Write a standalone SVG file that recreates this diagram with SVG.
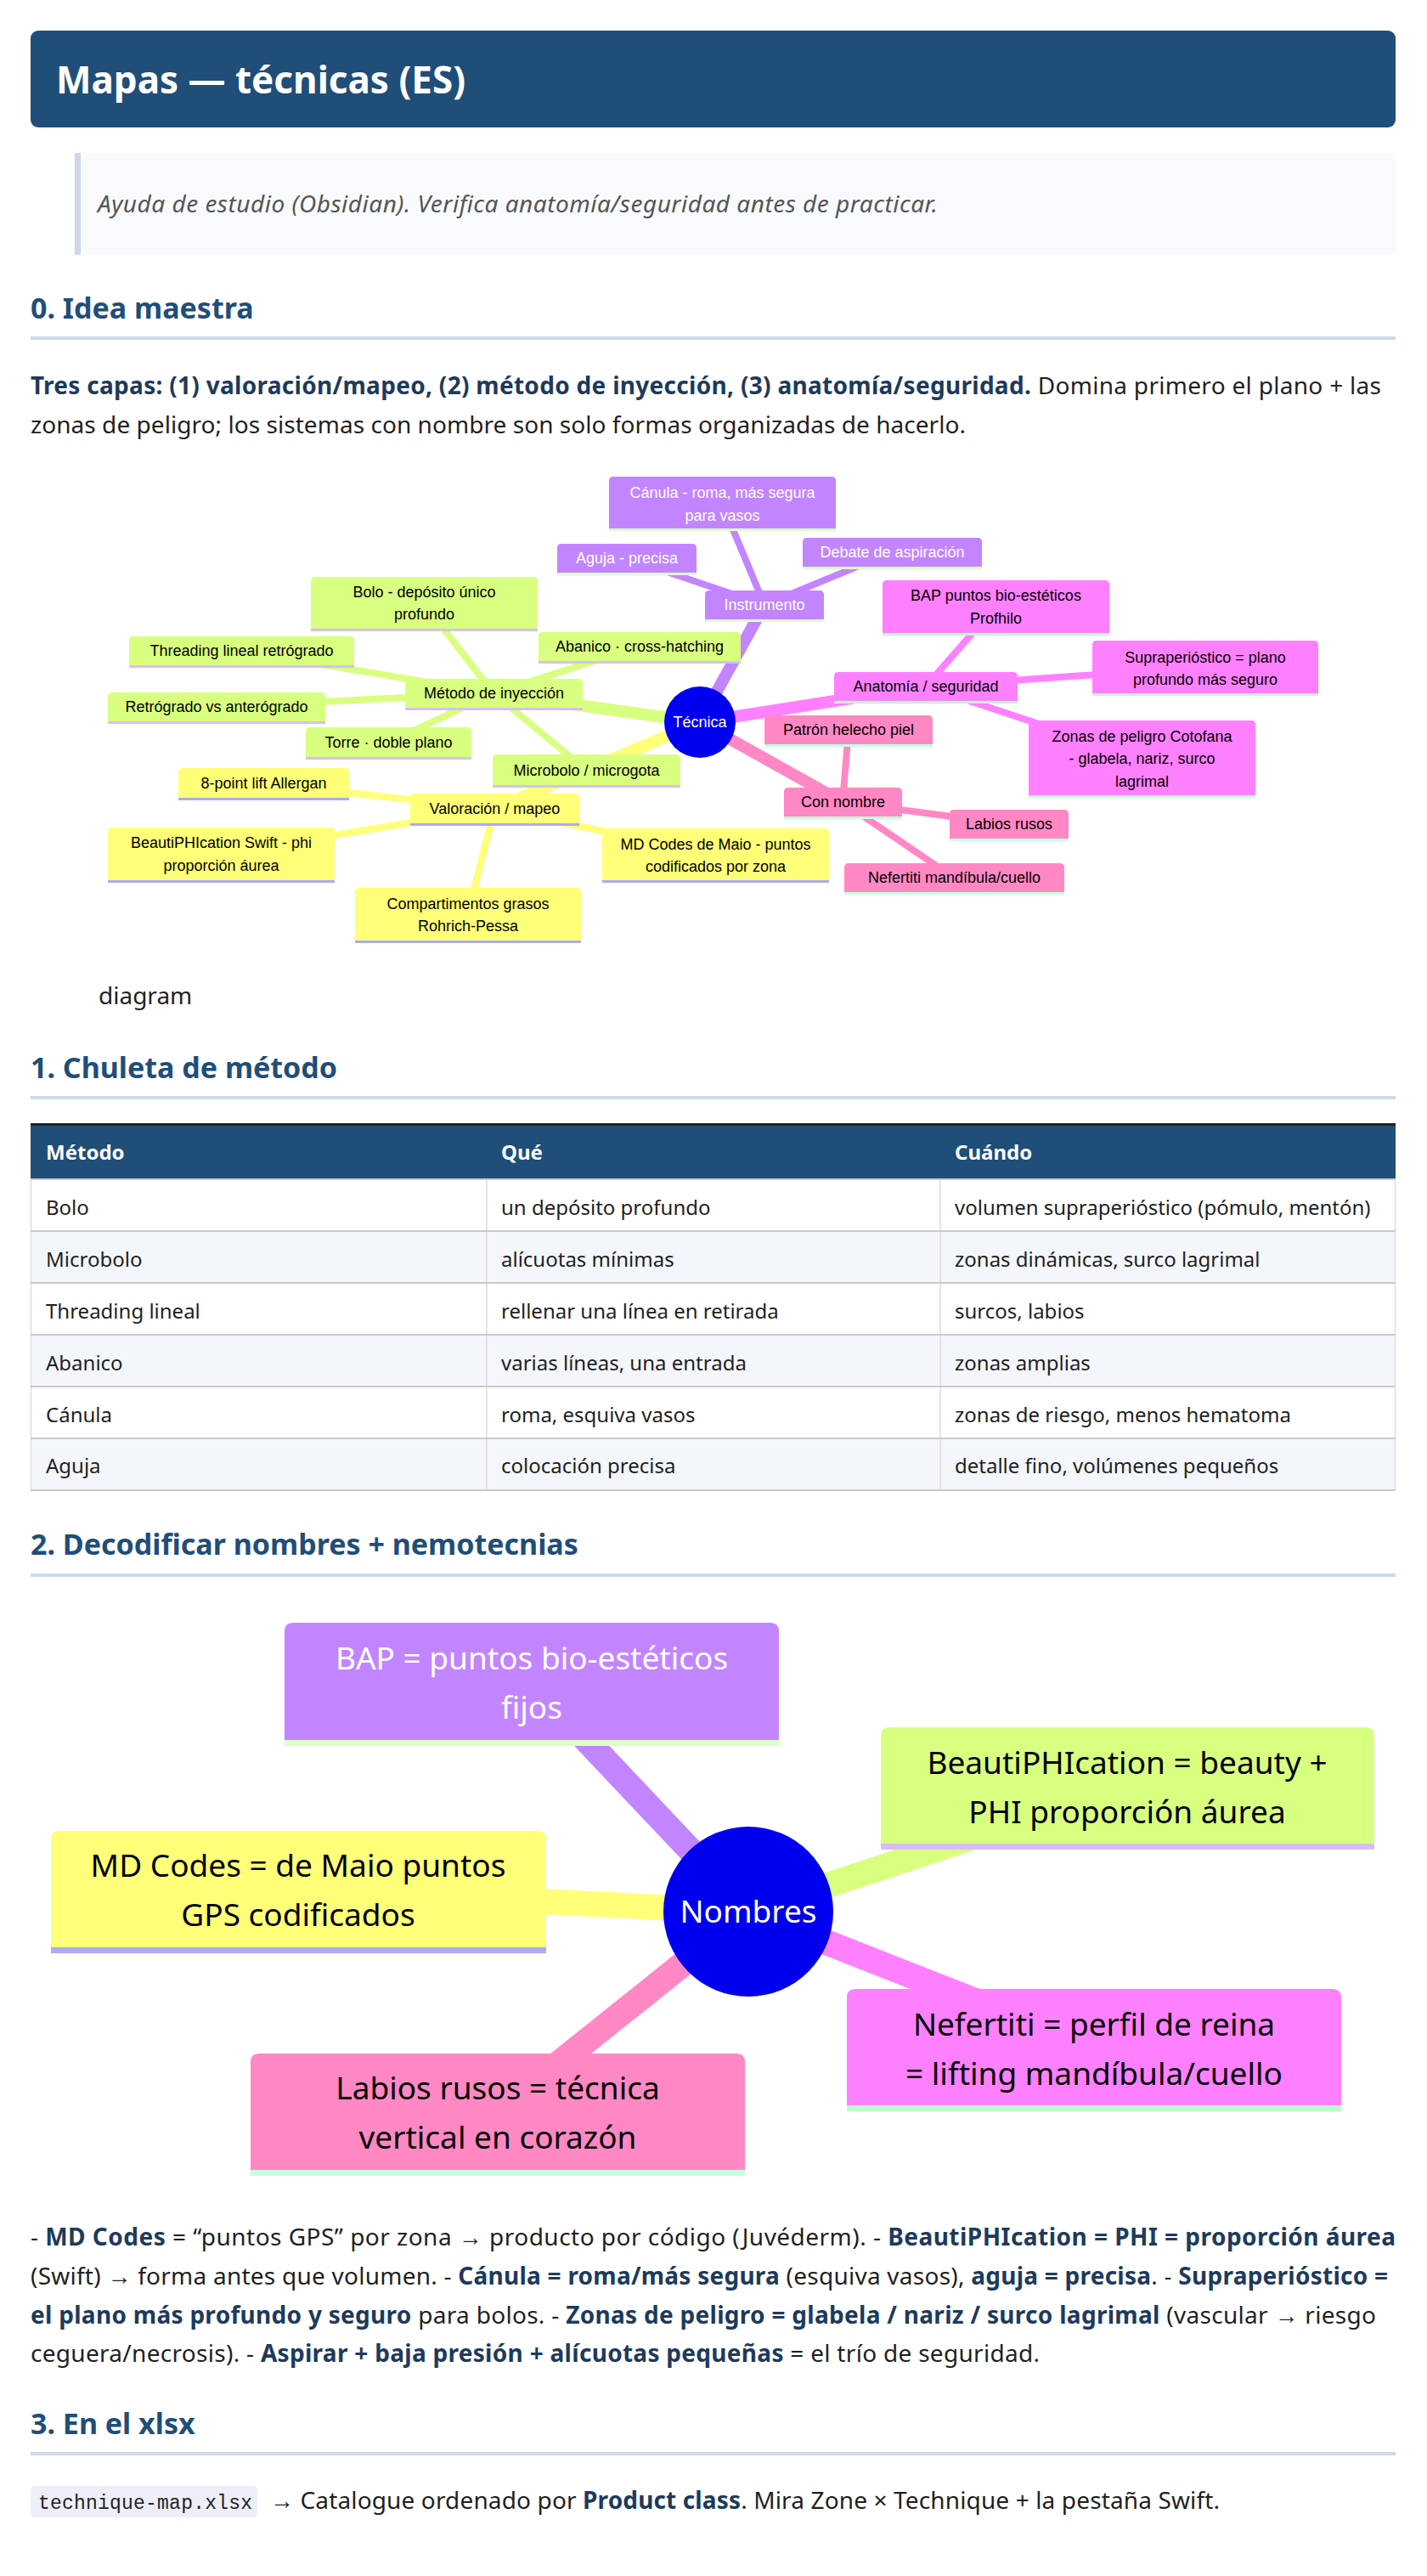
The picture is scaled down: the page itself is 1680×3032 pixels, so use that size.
<svg xmlns="http://www.w3.org/2000/svg" width="1680" height="3032" viewBox="0 0 1680 3032">
<style>
.pg{font-family:"Noto Sans","Open Sans","Liberation Sans",sans-serif;fill:#1f1f1f}
.b{font-weight:700;fill:#1d3a5c}
.h2{font-family:"Noto Sans","Open Sans",sans-serif;font-weight:700;font-size:34px;fill:#1f4e79}
.body{font-size:28px}
.td{font-family:"Noto Sans","Open Sans",sans-serif;font-size:24px;fill:#1f1f1f}
.th{font-family:"Noto Sans","Open Sans",sans-serif;font-size:24px;font-weight:700;fill:#ffffff}
.m1{font-family:"Liberation Sans","DejaVu Sans",sans-serif;font-size:18px;text-anchor:middle;fill:#000}
.m1w{fill:#ffffff}
.m2{font-family:"Noto Sans","Open Sans",sans-serif;font-size:37px;text-anchor:middle;fill:#000}
.pu{fill:#c385ff}.pul{fill:#ddffc6}
.ma{fill:#ff80ff}.mal{fill:#baffc8}
.pk{fill:#ff88c4}.pkl{fill:#c4ffe2}
.ye{fill:#ffff78}.yel{fill:#aaaaff}
.gr{fill:#d9ff80}.grl{fill:#d5beff}
.e1{stroke-width:14;stroke-linecap:butt;fill:none}
.e2{stroke-width:8;stroke-linecap:butt;fill:none}
.e3{stroke-width:30;stroke-linecap:butt;fill:none}
.spu{stroke:#c385ff}.sma{stroke:#ff80ff}.spk{stroke:#ff88c4}.sye{stroke:#ffff78}.sgr{stroke:#d9ff80}
.hl{fill:#cdd9e6}
.rowa{fill:#ffffff}.rowb{fill:#f3f6fb}
.hline{fill:#cacaca}
.vline{stroke:#dddddd;stroke-width:1.5}
</style>

<!-- Title -->
<g id="title">
<rect x="36" y="36" width="1607" height="114" rx="9" fill="#1f4e79"/>
<text x="66" y="110" font-family="Noto Sans, Open Sans, sans-serif" font-size="44" font-weight="700" fill="#ffffff">Mapas — técnicas (ES)</text>
</g>

<!-- Blockquote -->
<g id="note">
<rect x="95" y="180" width="1548" height="120" fill="#f8fafd"/>
<rect x="88" y="180" width="7" height="120" fill="#cdd9e6"/>
<text x="115" y="250" font-family="Noto Sans, Open Sans, sans-serif" font-size="28" font-style="italic" fill="#555555" textLength="989" lengthAdjust="spacing">Ayuda de estudio (Obsidian). Verifica anatomía/seguridad antes de practicar.</text>
</g>

<!-- Section 0 -->
<g id="sec0">
<text class="h2" x="36" y="375">0. Idea maestra</text>
<rect class="hl" x="36" y="396" width="1607" height="4"/>
<text class="pg body" x="36" y="464" textLength="1590" lengthAdjust="spacing"><tspan class="b">Tres capas: (1) valoración/mapeo, (2) método de inyección, (3) anatomía/seguridad.</tspan> Domina primero el plano + las</text>
<text class="pg body" x="36" y="510" textLength="1101" lengthAdjust="spacing">zonas de peligro; los sistemas con nombre son solo formas organizadas de hacerlo.</text>
</g>

<!-- Mindmap 1 connectors -->
<g id="connectors-map1">
<line class="e1 spu" x1="824" y1="850" x2="900" y2="712"/>
<line class="e1 sma" x1="824" y1="850" x2="1090" y2="808"/>
<line class="e1 spk" x1="824" y1="850" x2="992" y2="944"/>
<line class="e1 sgr" x1="824" y1="850" x2="581" y2="816"/>
<line class="e1 sye" x1="824" y1="850" x2="582" y2="952"/>
<line class="e2 spu" x1="900" y1="712" x2="850" y2="592"/>
<line class="e2 spu" x1="900" y1="712" x2="738" y2="657"/>
<line class="e2 spu" x1="900" y1="712" x2="1050" y2="650"/>
<line class="e2 sma" x1="1090" y1="808" x2="1172" y2="714"/>
<line class="e2 sma" x1="1090" y1="808" x2="1419" y2="785"/>
<line class="e2 sma" x1="1090" y1="808" x2="1344" y2="892"/>
<line class="e2 spk" x1="992" y1="944" x2="999" y2="859"/>
<line class="e2 spk" x1="992" y1="944" x2="1188" y2="970"/>
<line class="e2 spk" x1="992" y1="944" x2="1123" y2="1033"/>
<line class="e2 sgr" x1="581" y1="816" x2="499" y2="710"/>
<line class="e2 sgr" x1="581" y1="816" x2="284" y2="766"/>
<line class="e2 sgr" x1="581" y1="816" x2="753" y2="761"/>
<line class="e2 sgr" x1="581" y1="816" x2="255" y2="832"/>
<line class="e2 sgr" x1="581" y1="816" x2="457" y2="874"/>
<line class="e2 sgr" x1="581" y1="816" x2="690" y2="906"/>
<line class="e2 sye" x1="582" y1="952" x2="310" y2="922"/>
<line class="e2 sye" x1="582" y1="952" x2="260" y2="1005"/>
<line class="e2 sye" x1="582" y1="952" x2="551" y2="1076"/>
<line class="e2 sye" x1="582" y1="952" x2="842" y2="1005"/>
</g>

<!-- Mindmap 1 nodes -->
<g id="m1-tecnica"><circle cx="824" cy="850" r="42" fill="#0000ee"/><text class="m1 m1w" x="824" y="856">Técnica</text></g>

<g id="m1-instrumento"><path class="pu" d="M830 729V700Q830 695 835 695H965Q970 695 970 700V729Z"/><rect class="pul" x="830" y="729" width="140" height="3"/><text class="m1 m1w" x="900" y="718">Instrumento</text></g>
<g id="m1-canula"><path class="pu" d="M717 622V566Q717 561 722 561H979Q984 561 984 566V622Z"/><rect class="pul" x="717" y="622" width="267" height="3"/><text class="m1 m1w" x="850.5" y="586">Cánula - roma, más segura</text><text class="m1 m1w" x="850.5" y="613">para vasos</text></g>
<g id="m1-aguja"><path class="pu" d="M656 674V645Q656 640 661 640H815Q820 640 820 645V674Z"/><rect class="pul" x="656" y="674" width="164" height="3"/><text class="m1 m1w" x="738" y="663">Aguja - precisa</text></g>
<g id="m1-debate"><path class="pu" d="M945 667V638Q945 633 950 633H1151Q1156 633 1156 638V667Z"/><rect class="pul" x="945" y="667" width="211" height="3"/><text class="m1 m1w" x="1050.5" y="656">Debate de aspiración</text></g>

<g id="m1-anatomia"><path class="ma" d="M982 825V796Q982 791 987 791H1193Q1198 791 1198 796V825Z"/><rect class="mal" x="982" y="825" width="216" height="3"/><text class="m1" x="1090" y="814">Anatomía / seguridad</text></g>
<g id="m1-bap"><path class="ma" d="M1039 745V688Q1039 683 1044 683H1301Q1306 683 1306 688V745Z"/><rect class="mal" x="1039" y="745" width="267" height="3"/><text class="m1" x="1172.5" y="707">BAP puntos bio-estéticos</text><text class="m1" x="1172.5" y="734">Profhilo</text></g>
<g id="m1-supra"><path class="ma" d="M1286 816V759Q1286 754 1291 754H1547Q1552 754 1552 759V816Z"/><rect class="mal" x="1286" y="816" width="266" height="3"/><text class="m1" x="1419" y="780">Supraperióstico = plano</text><text class="m1" x="1419" y="806">profundo más seguro</text></g>
<g id="m1-zonas"><path class="ma" d="M1211 936V853Q1211 848 1216 848H1473Q1478 848 1478 853V936Z"/><rect class="mal" x="1211" y="936" width="267" height="3"/><text class="m1" x="1344.5" y="873">Zonas de peligro Cotofana</text><text class="m1" x="1344.5" y="899">- glabela, nariz, surco</text><text class="m1" x="1344.5" y="926">lagrimal</text></g>

<g id="m1-connombre"><path class="pk" d="M923 961V932Q923 927 928 927H1057Q1062 927 1062 932V961Z"/><rect class="pkl" x="923" y="961" width="139" height="3"/><text class="m1" x="992.5" y="950">Con nombre</text></g>
<g id="m1-patron"><path class="pk" d="M900 876V847Q900 842 905 842H1093Q1098 842 1098 847V876Z"/><rect class="pkl" x="900" y="876" width="198" height="3"/><text class="m1" x="999" y="865">Patrón helecho piel</text></g>
<g id="m1-labios"><path class="pk" d="M1118 987V958Q1118 953 1123 953H1253Q1258 953 1258 958V987Z"/><rect class="pkl" x="1118" y="987" width="140" height="3"/><text class="m1" x="1188" y="976">Labios rusos</text></g>
<g id="m1-nefertiti"><path class="pk" d="M994 1050V1021Q994 1016 999 1016H1248Q1253 1016 1253 1021V1050Z"/><rect class="pkl" x="994" y="1050" width="259" height="3"/><text class="m1" x="1123.5" y="1039">Nefertiti mandíbula/cuello</text></g>

<g id="m1-metodo"><path class="gr" d="M477 833V804Q477 799 482 799H681Q686 799 686 804V833Z"/><rect class="grl" x="477" y="833" width="209" height="3"/><text class="m1" x="581.5" y="822">Método de inyección</text></g>
<g id="m1-bolo"><path class="gr" d="M366 740V684Q366 679 371 679H628Q633 679 633 684V740Z"/><rect class="grl" x="366" y="740" width="267" height="3"/><text class="m1" x="499.5" y="703">Bolo - depósito único</text><text class="m1" x="499.5" y="729">profundo</text></g>
<g id="m1-threading"><path class="gr" d="M152 783V754Q152 749 157 749H412Q417 749 417 754V783Z"/><rect class="grl" x="152" y="783" width="265" height="3"/><text class="m1" x="284.5" y="772">Threading lineal retrógrado</text></g>
<g id="m1-abanico"><path class="gr" d="M634 778V749Q634 744 639 744H867Q872 744 872 749V778Z"/><rect class="grl" x="634" y="778" width="238" height="3"/><text class="m1" x="753" y="767">Abanico · cross-hatching</text></g>
<g id="m1-retrogrado"><path class="gr" d="M127 849V820Q127 815 132 815H378Q383 815 383 820V849Z"/><rect class="grl" x="127" y="849" width="256" height="3"/><text class="m1" x="255" y="838">Retrógrado vs anterógrado</text></g>
<g id="m1-torre"><path class="gr" d="M360 891V861Q360 856 365 856H550Q555 856 555 861V891Z"/><rect class="grl" x="360" y="891" width="195" height="3"/><text class="m1" x="457.5" y="880">Torre · doble plano</text></g>
<g id="m1-microbolo"><path class="gr" d="M580 924V893Q580 888 585 888H796Q801 888 801 893V924Z"/><rect class="grl" x="580" y="924" width="221" height="3"/><text class="m1" x="690.5" y="913">Microbolo / microgota</text></g>

<g id="m1-valoracion"><path class="ye" d="M483 969V939Q483 934 488 934H677Q682 934 682 939V969Z"/><rect class="yel" x="483" y="969" width="199" height="3"/><text class="m1" x="582.5" y="958">Valoración / mapeo</text></g>
<g id="m1-8point"><path class="ye" d="M210 939V909Q210 904 215 904H406Q411 904 411 909V939Z"/><rect class="yel" x="210" y="939" width="201" height="3"/><text class="m1" x="310.5" y="928">8-point lift Allergan</text></g>
<g id="m1-beauti"><path class="ye" d="M127 1036V979Q127 974 132 974H389Q394 974 394 979V1036Z"/><rect class="yel" x="127" y="1036" width="267" height="3"/><text class="m1" x="260.5" y="998">BeautiPHIcation Swift - phi</text><text class="m1" x="260.5" y="1025">proporción áurea</text></g>
<g id="m1-compart"><path class="ye" d="M418 1107V1050Q418 1045 423 1045H679Q684 1045 684 1050V1107Z"/><rect class="yel" x="418" y="1107" width="266" height="3"/><text class="m1" x="551" y="1070">Compartimentos grasos</text><text class="m1" x="551" y="1096">Rohrich-Pessa</text></g>
<g id="m1-mdcodes"><path class="ye" d="M709 1036V980Q709 975 714 975H971Q976 975 976 980V1036Z"/><rect class="yel" x="709" y="1036" width="267" height="3"/><text class="m1" x="842.5" y="1000">MD Codes de Maio - puntos</text><text class="m1" x="842.5" y="1026">codificados por zona</text></g>

<text class="pg body" x="116" y="1182">diagram</text>

<!-- Section 1 -->
<g id="sec1">
<text class="h2" x="36" y="1269">1. Chuleta de método</text>
<rect class="hl" x="36" y="1290" width="1607" height="4"/>
</g>

<g id="table">
<rect x="36" y="1322" width="1607" height="3" fill="#222222"/>
<rect x="36" y="1325" width="1607" height="63" fill="#1f4e79"/>
<rect class="rowa" x="36" y="1388" width="1607" height="61"/>
<rect class="rowb" x="36" y="1449" width="1607" height="61"/>
<rect class="rowa" x="36" y="1510" width="1607" height="61"/>
<rect class="rowb" x="36" y="1571" width="1607" height="61"/>
<rect class="rowa" x="36" y="1632" width="1607" height="61"/>
<rect class="rowb" x="36" y="1693" width="1607" height="61"/>
<line class="vline" x1="36.5" y1="1388" x2="36.5" y2="1754"/>
<line class="vline" x1="573" y1="1388" x2="573" y2="1754"/>
<line class="vline" x1="1107" y1="1388" x2="1107" y2="1754"/>
<line class="vline" x1="1642.5" y1="1388" x2="1642.5" y2="1754"/>
<rect class="hline" x="36" y="1387" width="1607" height="2"/>
<rect class="hline" x="36" y="1448" width="1607" height="2"/>
<rect class="hline" x="36" y="1509" width="1607" height="2"/>
<rect class="hline" x="36" y="1570" width="1607" height="2"/>
<rect class="hline" x="36" y="1631" width="1607" height="2"/>
<rect class="hline" x="36" y="1692" width="1607" height="2"/>
<rect class="hline" x="36" y="1753" width="1607" height="2"/>
<text class="th" x="54" y="1365">Método</text>
<text class="th" x="590" y="1365">Qué</text>
<text class="th" x="1124" y="1365">Cuándo</text>
<text class="td" x="54" y="1430">Bolo</text><text class="td" x="590" y="1430">un depósito profundo</text><text class="td" x="1124" y="1430">volumen supraperióstico (pómulo, mentón)</text>
<text class="td" x="54" y="1491">Microbolo</text><text class="td" x="590" y="1491">alícuotas mínimas</text><text class="td" x="1124" y="1491">zonas dinámicas, surco lagrimal</text>
<text class="td" x="54" y="1552">Threading lineal</text><text class="td" x="590" y="1552">rellenar una línea en retirada</text><text class="td" x="1124" y="1552">surcos, labios</text>
<text class="td" x="54" y="1613">Abanico</text><text class="td" x="590" y="1613">varias líneas, una entrada</text><text class="td" x="1124" y="1613">zonas amplias</text>
<text class="td" x="54" y="1674">Cánula</text><text class="td" x="590" y="1674">roma, esquiva vasos</text><text class="td" x="1124" y="1674">zonas de riesgo, menos hematoma</text>
<text class="td" x="54" y="1734">Aguja</text><text class="td" x="590" y="1734">colocación precisa</text><text class="td" x="1124" y="1734">detalle fino, volúmenes pequeños</text>
</g>

<!-- Section 2 -->
<g id="sec2">
<text class="h2" x="36" y="1830">2. Decodificar nombres + nemotecnias</text>
<rect class="hl" x="36" y="1852" width="1607" height="4"/>
</g>

<g id="connectors-map2">
<line class="e3 spu" x1="881" y1="2250" x2="626" y2="1980"/>
<line class="e3 sgr" x1="881" y1="2250" x2="1327" y2="2102"/>
<line class="e3 sye" x1="881" y1="2250" x2="351" y2="2224"/>
<line class="e3 sma" x1="881" y1="2250" x2="1288" y2="2410"/>
<line class="e3 spk" x1="881" y1="2250" x2="586" y2="2486"/>
</g>

<g id="m2-bap"><path class="pu" d="M335 2048V1920Q335 1910 345 1910H907Q917 1910 917 1920V2048Z"/><rect class="pul" x="335" y="2048" width="582" height="7"/><text class="m2" x="626" y="1965" fill="#fff" style="fill:#ffffff">BAP = puntos bio-estéticos</text><text class="m2" x="626" y="2023" style="fill:#ffffff">fijos</text></g>
<g id="m2-beauti"><path class="gr" d="M1037 2170V2043Q1037 2033 1047 2033H1608Q1618 2033 1618 2043V2170Z"/><rect class="grl" x="1037" y="2170" width="581" height="7"/><text class="m2" x="1327" y="2088">BeautiPHIcation = beauty +</text><text class="m2" x="1327" y="2146">PHI proporción áurea</text></g>
<g id="m2-mdcodes"><path class="ye" d="M60 2292V2165Q60 2155 70 2155H633Q643 2155 643 2165V2292Z"/><rect class="yel" x="60" y="2292" width="583" height="7"/><text class="m2" x="351" y="2209">MD Codes = de Maio puntos</text><text class="m2" x="351" y="2267">GPS codificados</text></g>
<g id="m2-nefertiti"><path class="ma" d="M997 2478V2351Q997 2341 1007 2341H1569Q1579 2341 1579 2351V2478Z"/><rect class="mal" x="997" y="2478" width="582" height="7"/><text class="m2" x="1288" y="2396">Nefertiti = perfil de reina</text><text class="m2" x="1288" y="2454">= lifting mandíbula/cuello</text></g>
<g id="m2-labios"><path class="pk" d="M295 2554V2427Q295 2417 305 2417H867Q877 2417 877 2427V2554Z"/><rect class="pkl" x="295" y="2554" width="582" height="7"/><text class="m2" x="586" y="2471">Labios rusos = técnica</text><text class="m2" x="586" y="2529">vertical en corazón</text></g>
<g id="m2-nombres"><circle cx="881" cy="2250" r="100" fill="#0000ee"/><text class="m2" x="881" y="2263" style="fill:#ffffff">Nombres</text></g>

<g id="notes">
<text class="pg body" x="36" y="2643" textLength="1607" lengthAdjust="spacing">- <tspan class="b">MD Codes</tspan> = “puntos GPS” por zona → producto por código (Juvéderm). - <tspan class="b">BeautiPHIcation = PHI = proporción áurea</tspan></text>
<text class="pg body" x="36" y="2689" textLength="1598" lengthAdjust="spacing">(Swift) → forma antes que volumen. - <tspan class="b">Cánula = roma/más segura</tspan> (esquiva vasos), <tspan class="b">aguja = precisa</tspan>. - <tspan class="b">Supraperióstico =</tspan></text>
<text class="pg body" x="36" y="2735" textLength="1584" lengthAdjust="spacing"><tspan class="b">el plano más profundo y seguro</tspan> para bolos. - <tspan class="b">Zonas de peligro = glabela / nariz / surco lagrimal</tspan> (vascular → riesgo</text>
<text class="pg body" x="36" y="2780" textLength="1188" lengthAdjust="spacing">ceguera/necrosis). - <tspan class="b">Aspirar + baja presión + alícuotas pequeñas</tspan> = el trío de seguridad.</text>
</g>

<!-- Section 3 -->
<g id="sec3">
<text class="h2" x="36" y="2865">3. En el xlsx</text>
<rect class="hl" x="36" y="2886" width="1607" height="4"/>
<rect x="36" y="2926" width="267" height="37" rx="5" fill="#eeeefb"/>
<text x="45" y="2953" font-family="Liberation Mono, DejaVu Sans Mono, monospace" font-size="23" fill="#222222" textLength="252" lengthAdjust="spacing">technique-map.xlsx</text>
<text class="pg body" x="318" y="2953" textLength="1118" lengthAdjust="spacing">→ Catalogue ordenado por <tspan class="b">Product class</tspan>. Mira Zone × Technique + la pestaña Swift.</text>
</g>
</svg>
